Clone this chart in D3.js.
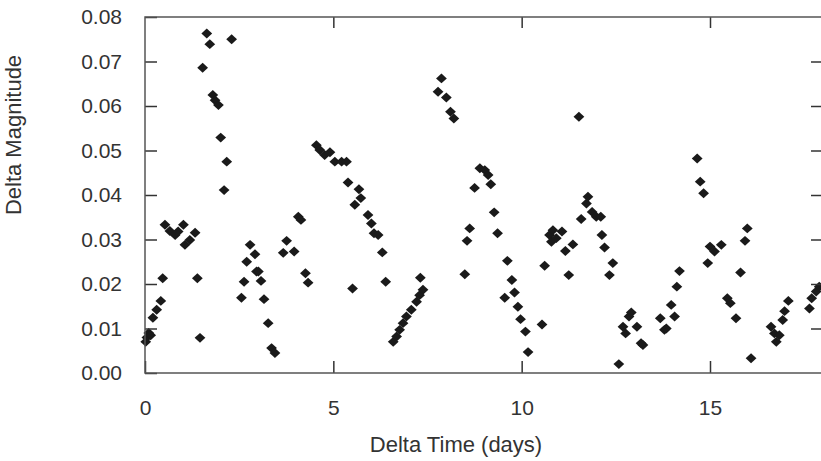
<!DOCTYPE html>
<html>
<head>
<meta charset="utf-8">
<title>Delta Magnitude vs Delta Time</title>
<script src="https://d3js.org/d3.v7.min.js"></script>
<style>
  body { margin: 0; background: #fff; }
  text { font-family: "Liberation Sans", Arial, sans-serif; fill: #333; }
</style>
</head>
<body>
<div id="chart"></div>
<script>
var timeDays = [0.02, 0.05, 0.10, 0.15, 0.21, 0.31, 0.42, 0.47,
  0.53, 0.66, 0.80, 0.88, 1.02, 1.06, 1.19, 1.33, 1.39, 1.46,
  1.53, 1.64, 1.72, 2.30, 1.80, 1.86, 1.95, 2.01, 2.10, 2.17,
  2.56, 2.63, 2.70, 2.79, 2.92, 2.96, 3.01, 3.08, 3.16, 3.27, 3.36, 3.45,
  3.67, 3.76, 3.96, 4.07, 4.14, 4.26, 4.33,
  4.55, 4.64, 4.77, 4.91, 5.04, 5.22, 5.35, 5.39, 5.51, 5.57, 5.68, 5.73, 5.92, 6.01, 6.08, 6.19, 6.30, 6.39,
  6.59, 6.68, 6.76, 6.85, 6.94, 7.07, 7.21, 7.29, 7.31, 7.38,
  7.78, 7.87, 8.00, 8.11, 8.20,
  8.49, 8.55, 8.62, 8.75, 8.89, 9.02, 9.11, 9.18, 9.27, 9.36,
  9.55, 9.62, 9.74, 9.81, 9.90, 9.97, 10.10, 10.17, 10.54,
  10.61, 10.74, 10.79, 10.83, 10.92, 11.07, 11.16, 11.25, 11.36, 11.52,
  11.58, 11.72, 11.76, 11.87, 11.98, 12.10, 12.13, 12.20, 12.33, 12.42, 12.58,
  12.69, 12.76, 12.85, 12.91, 13.06, 13.17, 13.22,
  13.68, 13.79, 13.84, 13.97, 14.06, 14.12, 14.19,
  14.66, 14.74, 14.83, 14.94, 15.00, 15.12, 15.30,
  15.46, 15.54, 15.69, 15.81, 15.93, 15.99, 16.09,
  16.62, 16.71, 16.76, 16.84, 16.93, 16.98, 17.08,
  17.64, 17.70, 17.82, 17.90];
var deltaMag = [0.0070, 0.0080, 0.0090, 0.0085, 0.0124, 0.0142, 0.0162, 0.0213,
  0.0333, 0.0319, 0.0310, 0.0318, 0.0333, 0.0288, 0.0299, 0.0315, 0.0213, 0.0079,
  0.0686, 0.0763, 0.0739, 0.0750, 0.0625, 0.0613, 0.0602, 0.0529, 0.0411, 0.0475,
  0.0169, 0.0205, 0.0250, 0.0288, 0.0267, 0.0228, 0.0228, 0.0207, 0.0166, 0.0112, 0.0056, 0.0045,
  0.0270, 0.0297, 0.0273, 0.0351, 0.0344, 0.0224, 0.0203,
  0.0512, 0.0501, 0.0490, 0.0496, 0.0475, 0.0475, 0.0475, 0.0428, 0.0190, 0.0378, 0.0413, 0.0393, 0.0355, 0.0336, 0.0314, 0.0310, 0.0271, 0.0205,
  0.0070, 0.0082, 0.0097, 0.0112, 0.0127, 0.0142, 0.0160, 0.0175, 0.0214, 0.0187,
  0.0632, 0.0662, 0.0619, 0.0587, 0.0572,
  0.0222, 0.0297, 0.0325, 0.0416, 0.0460, 0.0456, 0.0445, 0.0424, 0.0361, 0.0314,
  0.0169, 0.0252, 0.0209, 0.0181, 0.0149, 0.0121, 0.0093, 0.0047, 0.0109,
  0.0241, 0.0310, 0.0295, 0.0321, 0.0303, 0.0318, 0.0274, 0.0220, 0.0289, 0.0576,
  0.0346, 0.0381, 0.0396, 0.0362, 0.0351, 0.0351, 0.0310, 0.0282, 0.0220, 0.0247, 0.0020,
  0.0104, 0.0089, 0.0127, 0.0136, 0.0104, 0.0067, 0.0063,
  0.0123, 0.0097, 0.0100, 0.0153, 0.0127, 0.0194, 0.0229,
  0.0482, 0.0430, 0.0404, 0.0247, 0.0284, 0.0273, 0.0288,
  0.0168, 0.0157, 0.0123, 0.0226, 0.0297, 0.0325, 0.0033,
  0.0104, 0.0089, 0.0070, 0.0085, 0.0119, 0.0139, 0.0162,
  0.0145, 0.0168, 0.0183, 0.0194];

var xTicks = [0, 5, 10, 15];
var yTicks = [0, 0.01, 0.02, 0.03, 0.04, 0.05, 0.06, 0.07, 0.08];

var W = 821, H = 461;
var margin = {top: 17, right: -2, bottom: 88, left: 145};
var width = W - margin.left - margin.right,
    height = H - margin.top - margin.bottom;

var svg = d3.select("#chart").append("svg")
    .attr("width", W)
    .attr("height", H);
var g = svg.append("g")
    .attr("transform", "translate(" + margin.left + "," + margin.top + ")");

var x = d3.scaleLinear().domain([0, 18]).range([0, width]);
var y = d3.scaleLinear().domain([0, 0.08]).range([height, 0]);

// points first, frame on top
g.selectAll(".pt")
  .data(timeDays)
  .enter()
  .append("path")
    .attr("class", "pt")
    .attr("d", d3.symbol().type(d3.symbolSquare).size(58))
    .attr("transform", function(d, i) {
      return "translate(" + x(d) + "," + y(deltaMag[i]) + ") scale(1,0.92) rotate(45)";
    })
    .style("fill", "#1a1a1a");

function styleAxis(sel) {
  sel.select(".domain").remove();
  sel.selectAll(".tick line").attr("stroke", "#333").attr("stroke-width", 1.5);
  sel.selectAll(".tick text").style("font-size", "21px").attr("fill", "#333");
}

g.append("g")
  .call(d3.axisLeft(y).tickValues(yTicks).tickSize(-12).tickPadding(23).tickFormat(d3.format(".2f")))
  .call(styleAxis);

g.append("g")
  .attr("transform", "translate(0," + height + ")")
  .call(d3.axisBottom(x).tickValues(xTicks).tickSize(-12).tickPadding(27).tickFormat(d3.format("d")))
  .call(styleAxis);

g.append("g")
  .call(d3.axisTop(x).tickValues(xTicks.slice(1)).tickSize(-11).tickFormat(""))
  .call(styleAxis);

g.append("g")
  .attr("transform", "translate(" + width + ",0)")
  .call(d3.axisRight(y).tickValues(yTicks.slice(1, -1)).tickSize(-12).tickFormat(""))
  .call(styleAxis);

g.append("rect")
  .attr("width", width)
  .attr("height", height)
  .attr("fill", "none")
  .attr("stroke", "#555")
  .attr("stroke-width", 1.5);

svg.append("text")
  .attr("x", 456)
  .attr("y", 452)
  .attr("text-anchor", "middle")
  .style("font-size", "22px")
  .text("Delta Time (days)");

svg.append("text")
  .attr("transform", "translate(21,135) rotate(-90)")
  .attr("text-anchor", "middle")
  .style("font-size", "22px")
  .text("Delta Magnitude");
</script>
</body>
</html>
